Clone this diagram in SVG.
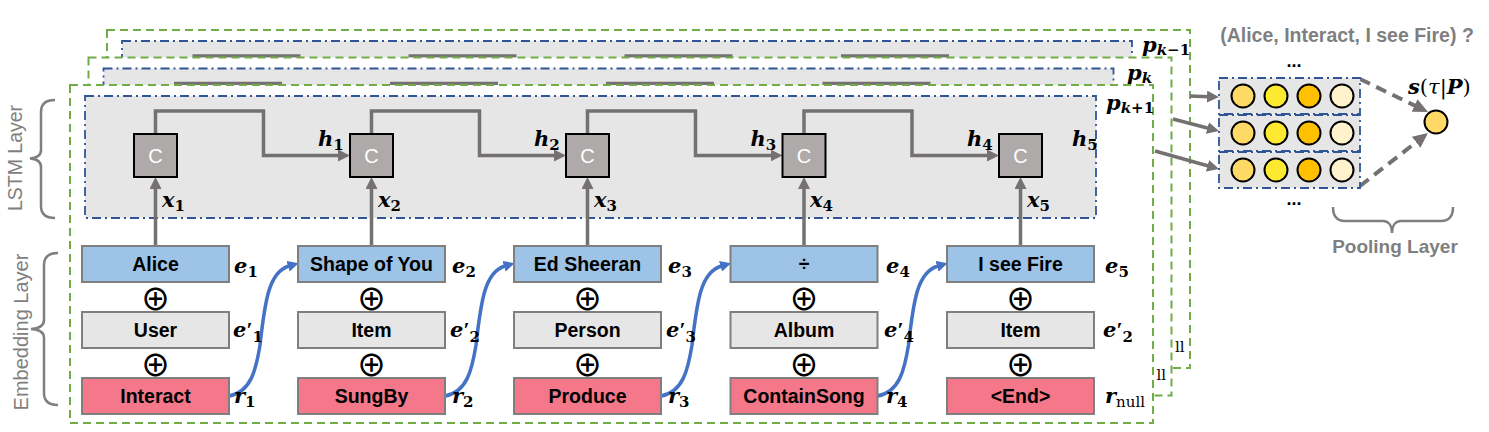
<svg xmlns="http://www.w3.org/2000/svg" width="1489" height="432" viewBox="0 0 1489 432">
<style>
.fg{fill:#fff;stroke:#70ad47;stroke-width:2;stroke-dasharray:8 5}
.bl{fill:#e6e6e6;stroke:#2f5597;stroke-width:1.8;stroke-dasharray:9 4 2 4}
.cell{fill:#aeaaaa;stroke:#000;stroke-width:2}
.ct{font-family:"Liberation Sans",Arial,sans-serif;font-size:20px;fill:#fff;text-anchor:middle}
.ent{fill:#9dc3e6;stroke:#7f7f7f;stroke-width:2}
.typ{fill:#e7e6e6;stroke:#7f7f7f;stroke-width:2}
.rel{fill:#f4788a;stroke:#7f7f7f;stroke-width:2}
.bt{font-family:"Liberation Sans",Arial,sans-serif;font-weight:bold;font-size:19.5px;fill:#000;text-anchor:middle}
.m{font-family:"DejaVu Serif",serif;font-weight:bold;font-style:italic;font-size:21px;fill:#000}
.s{font-size:15px;font-style:normal}
.sk{font-size:15px}
.pr{font-family:"Liberation Serif",serif;font-style:normal;font-size:22px}
.sn{font-size:15px;font-style:normal;font-weight:normal}
.ll{font-family:"DejaVu Serif",serif;font-size:15px;fill:#000}
.op{font-family:"Noto Sans CJK SC","DejaVu Sans",sans-serif;font-size:30px;font-weight:500;text-anchor:middle;dominant-baseline:central;fill:#000}
.gl{stroke:#767171;stroke-width:3.5;fill:none}
.ba{stroke:#4472c4;stroke-width:3.5;fill:none}
.dl{stroke:#767171;stroke-width:4;fill:none;stroke-dasharray:11 7}
.lab{font-family:"Liberation Sans",Arial,sans-serif;fill:#7f7f7f}
.brace{stroke:#7f7f7f;stroke-width:2.5;fill:none}
.pc{stroke:#000;stroke-width:2}
.dots{font-family:"Liberation Sans",Arial,sans-serif;font-weight:bold;font-size:18px;text-anchor:middle;fill:#000}
</style>
<defs>
<marker id="ag" markerUnits="userSpaceOnUse" markerWidth="12" markerHeight="12" refX="2" refY="6" orient="auto"><path d="M0,0 L12,6 L0,12 z" fill="#767171"/></marker>
<marker id="ab" markerUnits="userSpaceOnUse" markerWidth="11" markerHeight="11" refX="1" refY="5.5" orient="auto"><path d="M0,0 L11,5.5 L0,11 z" fill="#4472c4"/></marker>
<marker id="ad" markerUnits="userSpaceOnUse" markerWidth="15" markerHeight="14" refX="3" refY="7" orient="auto"><path d="M0,0 L15,7 L0,14 z" fill="#767171"/></marker>
</defs>

<!-- back frame p_{k-1} -->
<g id="frame-pk-1">
<rect class="fg" x="107" y="30" width="1083" height="338"/>
<rect class="bl" x="122" y="41" width="1010" height="122"/>
<path class="gl" d="M192.5,56 H300.5 M408.5,56 H516.5 M624.5,56 H732.5 M841,56 H949"/>
<text class="m" x="1142" y="52">p<tspan class="sk" dy="3">k</tspan><tspan class="s">−1</tspan></text>
<text class="ll" x="1175" y="352">ll</text>
</g>

<!-- middle frame p_k -->
<g id="frame-pk">
<rect class="fg" x="88.5" y="57.5" width="1083" height="338"/>
<rect class="bl" x="103.5" y="68.5" width="1010" height="122"/>
<path class="gl" d="M174,83.5 H282 M390,83.5 H498 M606,83.5 H714 M822.5,83.5 H930.5"/>
<text class="m" x="1127" y="80">p<tspan class="sk" dy="3">k</tspan></text>
<text class="ll" x="1156.5" y="380">ll</text>
</g>

<!-- front frame p_{k+1} -->
<g id="frame-pk1">
<rect class="fg" x="70" y="85" width="1083" height="338"/>
<rect class="bl" x="85" y="96" width="1011" height="122"/>
<text class="m" x="1106" y="110">p<tspan class="sk" dy="3">k</tspan><tspan class="s">+1</tspan></text>
</g>

<!-- layer brackets -->
<g id="lstm-layer-label">
<path class="brace" d="M55,100 C45,100 41,104 41,112 L41,150 C41,155 37,158 30,158.5 C37,159 41,162 41,167 L41,206 C41,214 45,218 55,218"/>
<text class="lab" font-size="19.5" text-anchor="middle" transform="translate(22,158) rotate(-90)">LSTM Layer</text>
</g>
<g id="embedding-layer-label">
<path class="brace" d="M58,253 C48,253 44,257 44,265 L44,320 C44,325 40,328.5 31,329 C40,329.5 44,333 44,338 L44,393 C44,401 48,405 58,405"/>
<text class="lab" font-size="20" text-anchor="middle" transform="translate(28,332) rotate(-90)">Embedding Layer</text>
</g>

<!-- connectors -->
<g id="connectors">
<path class="gl" marker-end="url(#ag)" d="M155.5,246 V187"/>
<path class="gl" marker-end="url(#ag)" d="M371.5,246 V187"/>
<path class="gl" marker-end="url(#ag)" d="M587.5,246 V187"/>
<path class="gl" marker-end="url(#ag)" d="M804,246 V187"/>
<path class="gl" marker-end="url(#ag)" d="M1020.5,246 V187"/>
<path class="gl" marker-end="url(#ag)" d="M155.5,134 V111 H263.5 V155.5 H340"/>
<path class="gl" marker-end="url(#ag)" d="M371.5,134 V111 H479.5 V155.5 H556"/>
<path class="gl" marker-end="url(#ag)" d="M587.5,134 V111 H695.5 V155.5 H772.5"/>
<path class="gl" marker-end="url(#ag)" d="M804,134 V111 H912 V155.5 H989"/>
<path class="ba" marker-end="url(#ab)" d="M229,396 C251,392 256,370 260,345 C265,300 269,272 289,266"/>
<path class="ba" marker-end="url(#ab)" d="M445,396 C467,392 472,370 476,345 C481,300 485,272 505,266"/>
<path class="ba" marker-end="url(#ab)" d="M661,396 C683,392 688,370 692,345 C697,300 701,272 721.5,266"/>
<path class="ba" marker-end="url(#ab)" d="M877.5,396 C899.5,392 904.5,370 908.5,345 C913.5,300 917.5,272 938,266"/>
<path class="gl" marker-end="url(#ag)" d="M1190,96 L1209,96.7"/>
<path class="gl" marker-end="url(#ag)" d="M1173,119 L1209.3,128.5"/>
<path class="gl" marker-end="url(#ag)" d="M1155,151 L1209.4,166.3"/>
<path class="dl" marker-end="url(#ad)" d="M1360,79 L1417.2,106.8"/>
<path class="dl" marker-end="url(#ad)" d="M1360,186 L1418.5,140.4"/>
</g>

<!-- LSTM cells -->
<g id="cell1"><rect class="cell" x="134" y="134" width="43" height="43"/><text class="ct" x="155.5" y="162.5">C</text></g>
<g id="cell2"><rect class="cell" x="350" y="134" width="43" height="43"/><text class="ct" x="371.5" y="162.5">C</text></g>
<g id="cell3"><rect class="cell" x="566" y="134" width="43" height="43"/><text class="ct" x="587.5" y="162.5">C</text></g>
<g id="cell4"><rect class="cell" x="782.5" y="134" width="43" height="43"/><text class="ct" x="804" y="162.5">C</text></g>
<g id="cell5"><rect class="cell" x="999" y="134" width="43" height="43"/><text class="ct" x="1020.5" y="162.5">C</text></g>

<!-- hidden state and input labels -->
<g id="lstm-labels">
<text class="m" x="318" y="146">h<tspan class="s" dy="4">1</tspan></text>
<text class="m" x="534" y="146">h<tspan class="s" dy="4">2</tspan></text>
<text class="m" x="750.5" y="146">h<tspan class="s" dy="4">3</tspan></text>
<text class="m" x="967" y="146">h<tspan class="s" dy="4">4</tspan></text>
<text class="m" x="1072" y="146">h<tspan class="s" dy="4">5</tspan></text>
<text class="m" x="162" y="207">x<tspan class="s" dy="4">1</tspan></text>
<text class="m" x="378" y="207">x<tspan class="s" dy="4">2</tspan></text>
<text class="m" x="594" y="207">x<tspan class="s" dy="4">3</tspan></text>
<text class="m" x="810" y="207">x<tspan class="s" dy="4">4</tspan></text>
<text class="m" x="1027" y="207">x<tspan class="s" dy="4">5</tspan></text>
</g>

<!-- column 1 -->
<g id="col1">
<rect class="ent" x="82" y="246" width="147" height="36"/><text class="bt" x="155.5" y="271">Alice</text>
<text class="op" x="155.5" y="297">⊕</text>
<rect class="typ" x="82" y="312" width="147" height="36"/><text class="bt" x="155.5" y="337">User</text>
<text class="op" x="155.5" y="363">⊕</text>
<rect class="rel" x="82" y="378" width="147" height="36"/><text class="bt" x="155.5" y="403">Interact</text>
<text class="m" x="234" y="273">e<tspan class="s" dy="4">1</tspan></text>
<text class="m" x="233" y="337">e<tspan class="pr">′</tspan><tspan class="s" dy="5">1</tspan></text>
<text class="m" x="234" y="403">r<tspan class="s" dy="4">1</tspan></text>
</g>
<!-- column 2 -->
<g id="col2">
<rect class="ent" x="298" y="246" width="147" height="36"/><text class="bt" x="371.5" y="271">Shape of You</text>
<text class="op" x="371.5" y="297">⊕</text>
<rect class="typ" x="298" y="312" width="147" height="36"/><text class="bt" x="371.5" y="337">Item</text>
<text class="op" x="371.5" y="363">⊕</text>
<rect class="rel" x="298" y="378" width="147" height="36"/><text class="bt" x="371.5" y="403">SungBy</text>
<text class="m" x="452" y="273">e<tspan class="s" dy="4">2</tspan></text>
<text class="m" x="450" y="337">e<tspan class="pr">′</tspan><tspan class="s" dy="5">2</tspan></text>
<text class="m" x="452" y="403">r<tspan class="s" dy="4">2</tspan></text>
</g>
<!-- column 3 -->
<g id="col3">
<rect class="ent" x="514" y="246" width="147" height="36"/><text class="bt" x="587.5" y="271">Ed Sheeran</text>
<text class="op" x="587.5" y="297">⊕</text>
<rect class="typ" x="514" y="312" width="147" height="36"/><text class="bt" x="587.5" y="337">Person</text>
<text class="op" x="587.5" y="363">⊕</text>
<rect class="rel" x="514" y="378" width="147" height="36"/><text class="bt" x="587.5" y="403">Produce</text>
<text class="m" x="668" y="273">e<tspan class="s" dy="4">3</tspan></text>
<text class="m" x="666" y="337">e<tspan class="pr">′</tspan><tspan class="s" dy="5">3</tspan></text>
<text class="m" x="668" y="403">r<tspan class="s" dy="4">3</tspan></text>
</g>
<!-- column 4 -->
<g id="col4">
<rect class="ent" x="730.5" y="246" width="147" height="36"/><text class="bt" x="804" y="271" font-weight="normal">÷</text>
<text class="op" x="804" y="297">⊕</text>
<rect class="typ" x="730.5" y="312" width="147" height="36"/><text class="bt" x="804" y="337">Album</text>
<text class="op" x="804" y="363">⊕</text>
<rect class="rel" x="730.5" y="378" width="147" height="36"/><text class="bt" x="804" y="403">ContainSong</text>
<text class="m" x="886" y="273">e<tspan class="s" dy="4">4</tspan></text>
<text class="m" x="884" y="337">e<tspan class="pr">′</tspan><tspan class="s" dy="5">4</tspan></text>
<text class="m" x="886" y="403">r<tspan class="s" dy="4">4</tspan></text>
</g>
<!-- column 5 -->
<g id="col5">
<rect class="ent" x="947" y="246" width="147" height="36"/><text class="bt" x="1020.5" y="271">I see Fire</text>
<text class="op" x="1020.5" y="297">⊕</text>
<rect class="typ" x="947" y="312" width="147" height="36"/><text class="bt" x="1020.5" y="337">Item</text>
<text class="op" x="1020.5" y="363">⊕</text>
<rect class="rel" x="947" y="378" width="147" height="36"/><text class="bt" x="1020.5" y="403">&lt;End&gt;</text>
<text class="m" x="1105" y="273">e<tspan class="s" dy="4">5</tspan></text>
<text class="m" x="1103" y="337">e<tspan class="pr">′</tspan><tspan class="s" dy="5">2</tspan></text>
<text class="m" x="1105" y="403">r<tspan class="sn" dy="4">null</tspan></text>
</g>

<!-- pooling -->
<g id="query">
<text class="lab" x="1347" y="42" font-size="19.5" font-weight="bold" text-anchor="middle" fill="#8c8c8c">(Alice, Interact, I see Fire) ?</text>
</g>
<g id="pool-rows">
<text class="dots" x="1294" y="67">...</text>
<rect class="bl" x="1219" y="78" width="141" height="36"/>
<rect class="bl" x="1219" y="115" width="141" height="36"/>
<rect class="bl" x="1219" y="152" width="141" height="36"/>
<circle class="pc" cx="1243" cy="96" r="11.5" fill="#ffd966"/><circle class="pc" cx="1276" cy="96" r="11.5" fill="#fde92f"/><circle class="pc" cx="1309" cy="96" r="11.5" fill="#ffc000"/><circle class="pc" cx="1342" cy="96" r="11.5" fill="#fff2cc"/>
<circle class="pc" cx="1243" cy="133" r="11.5" fill="#ffd966"/><circle class="pc" cx="1276" cy="133" r="11.5" fill="#fde92f"/><circle class="pc" cx="1309" cy="133" r="11.5" fill="#ffc000"/><circle class="pc" cx="1342" cy="133" r="11.5" fill="#fff2cc"/>
<circle class="pc" cx="1243" cy="170" r="11.5" fill="#ffd966"/><circle class="pc" cx="1276" cy="170" r="11.5" fill="#fde92f"/><circle class="pc" cx="1309" cy="170" r="11.5" fill="#ffc000"/><circle class="pc" cx="1342" cy="170" r="11.5" fill="#fff2cc"/>
<text class="dots" x="1294" y="205">...</text>
</g>
<g id="score">
<circle class="pc" cx="1436" cy="122" r="11.5" fill="#ffd966"/>
<text class="m" x="1408" y="94">s<tspan style="font-style:normal;font-weight:normal">(</tspan><tspan style="font-weight:normal">τ</tspan><tspan style="font-style:normal;font-weight:normal">|</tspan>P<tspan style="font-style:normal;font-weight:normal">)</tspan></text>
</g>
<g id="pooling-layer-label">
<path class="brace" d="M1333,207 C1333,217 1337,221 1345,221 L1383,221 C1388,221 1392,225 1392,233 C1392,225 1396,221 1401,221 L1441,221 C1449,221 1453,217 1453,207"/>
<text class="lab" x="1395" y="253" font-size="19" font-weight="bold" text-anchor="middle">Pooling Layer</text>
</g>
</svg>
